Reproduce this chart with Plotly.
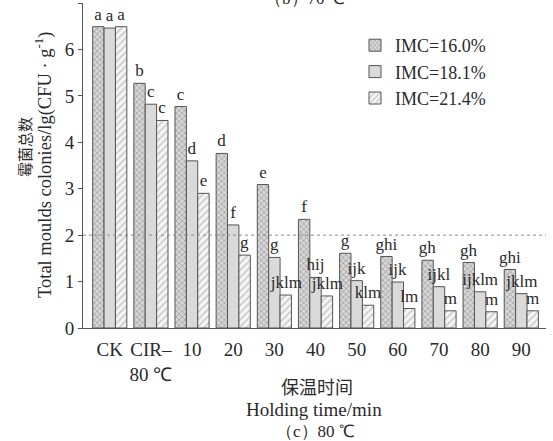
import plotly.graph_objects as go

categories = ["CK", "CIR–<br>80 ℃", "10", "20", "30", "40", "50", "60", "70", "80", "90"]
series_names = ["IMC=16.0%", "IMC=18.1%", "IMC=21.4%"]
imc160 = [6.49, 5.27, 4.77, 3.76, 3.09, 2.34, 1.61, 1.54, 1.46, 1.41, 1.26]
imc181 = [6.46, 4.82, 3.60, 2.22, 1.52, 1.09, 1.02, 0.99, 0.89, 0.78, 0.74]
imc214 = [6.49, 4.47, 2.90, 1.57, 0.71, 0.69, 0.49, 0.42, 0.37, 0.35, 0.37]
letters160 = ["a", "b", "c", "d", "e", "f", "g", "ghi", "gh", "gh", "ghi"]
letters181 = ["a", "c", "d", "f", "g", "hij", "ijk", "ijk", "ijkl", "ijklm", "jklm"]
letters214 = ["a", "c", "e", "g", "jklm", "jklm", "klm", "lm", "m", "m", "m"]
threshold = 2

W, H = 553, 441
ML, MR, MT, MB = 83, 7, 3, 113
PH = H - MT - MB
SERIF = "Liberation Serif"
TXT = "#2a2a2a"

def py(p):
    return 1 - (p - MT) / PH

xs = list(range(len(categories)))
styles = [
    dict(color="#d6d6d6", pattern=dict(shape="x", fgcolor="#6e6e6e", bgcolor="#d6d6d6", size=4, solidity=0.35)),
    dict(color="#dadada"),
    dict(color="#f2f2f2", pattern=dict(shape="/", fgcolor="#8a8a8a", bgcolor="#f4f4f4", size=5, solidity=0.25)),
]
fig = go.Figure()
for name, vals, lets, st in zip(series_names, [imc160, imc181, imc214],
                                [letters160, letters181, letters214], styles):
    fig.add_trace(go.Bar(
        x=xs, y=vals, name=name, text=lets, textposition="outside",
        constraintext="none", cliponaxis=False,
        textfont=dict(family=SERIF, size=17, color=TXT),
        marker=dict(line=dict(color="#555555", width=1), **st),
    ))

fig.add_shape(type="line", xref="paper", yref="y", x0=0, x1=1, y0=threshold, y1=threshold,
              line=dict(color="#8a8a8a", width=1, dash="dot"), layer="above")

ann = [
    dict(text="霉菌总数", x=24, y=147, size=15, fam="Noto Sans CJK SC", rot=-90),
    dict(text="Total moulds colonies/lg(CFU · g<sup>-1</sup>)", x=43, y=165, size=18.5, fam=SERIF, rot=-90),
    dict(text="保温时间", x=317, y=386, size=18, fam="Noto Sans CJK SC", rot=0),
    dict(text="Holding time/min", x=314, y=409, size=19, fam=SERIF, rot=0),
    dict(text="（c）80 ℃", x=315, y=431, size=17, fam=SERIF, rot=0),
    dict(text="（b）70 ℃", x=305, y=-2, size=17, fam=SERIF, rot=0),
]
for a in ann:
    fig.add_annotation(text=a["text"], xref="paper", yref="paper",
                       x=(a["x"] - ML) / (W - ML - MR), y=py(a["y"]),
                       xanchor="center", yanchor="middle", showarrow=False,
                       textangle=a["rot"], font=dict(family=a["fam"], size=a["size"], color=TXT))

fig.update_layout(
    width=W, height=H, margin=dict(l=ML, r=MR, t=MT, b=MB),
    paper_bgcolor="white", plot_bgcolor="white",
    barmode="group", bargap=0.17, bargroupgap=0,
    font=dict(family=SERIF, size=18, color=TXT),
    showlegend=True,
    legend=dict(x=(355 - ML) / (W - ML - MR), y=py(27), xanchor="left", yanchor="top",
                bgcolor="rgba(0,0,0,0)", font=dict(family=SERIF, size=18, color=TXT),
                tracegroupgap=0, itemwidth=30),
    xaxis=dict(range=[-0.65, 10.6], tickvals=xs, ticktext=categories, showline=True,
               linecolor="#555555", linewidth=1, ticks="", showgrid=False, zeroline=False,
               ticklabelstandoff=4,
               tickfont=dict(family=SERIF, size=19, color=TXT)),
    yaxis=dict(range=[0, 7], dtick=1, showline=True, linecolor="#555555", linewidth=1,
               ticks="outside", ticklen=4, tickcolor="#555555", showgrid=False, zeroline=False,
               tickfont=dict(family=SERIF, size=19, color=TXT)),
)
fig.write_html("out.html")
